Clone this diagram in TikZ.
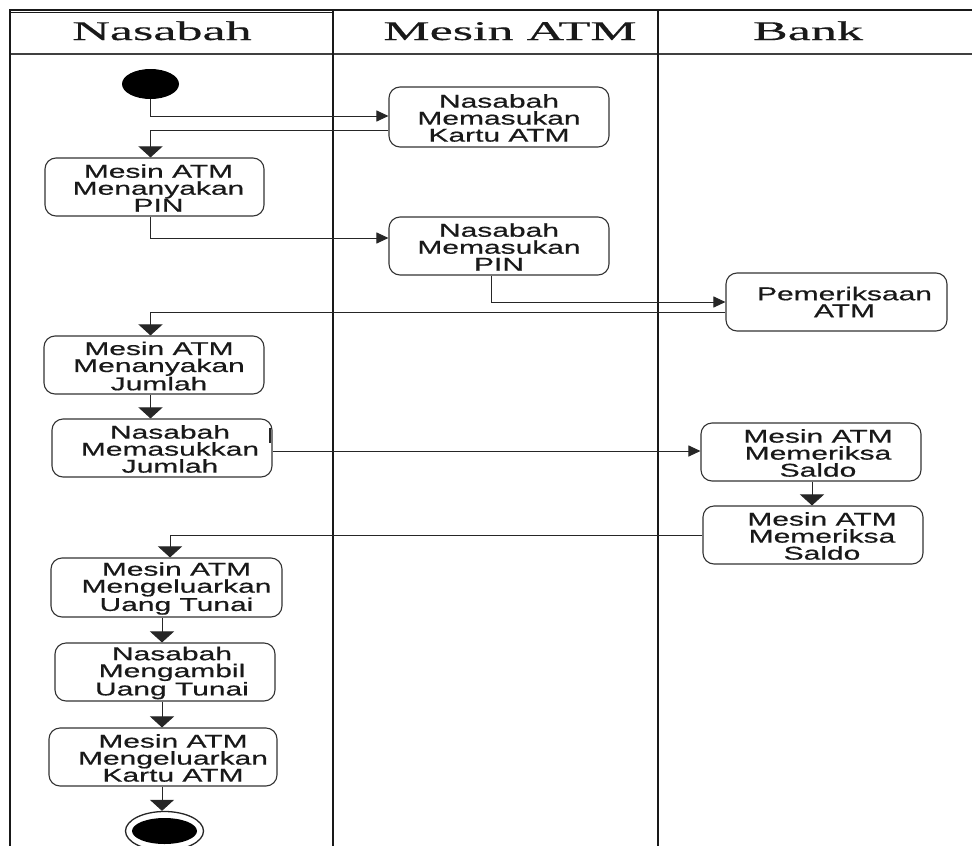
\documentclass[tikz,border=0pt]{standalone}
\usepackage{fontspec}
\usetikzlibrary{shapes.geometric,arrows.meta,calc}
\newfontfamily\boxfont[FakeStretch=1.62,FakeBold=0.6]{Liberation Sans}
\newfontfamily\headfont[FakeStretch=1.93,FakeBold=0.4]{Liberation Serif}

\tikzset{
  box/.style={draw=black!80, line width=1.1pt, rounded corners=11pt,
    minimum width=220pt, minimum height=58pt, inner sep=0pt},
  txt/.style={font=\boxfont\fontsize{18.5}{17}\selectfont, align=center,
    inner sep=0pt, text=black!90},
  head/.style={font=\headfont\fontsize{27}{30}\selectfont, inner sep=0pt,
    text=black!90, anchor=base},
  flow/.style={draw=black!85, line width=1pt},
  varr/.style={flow, -{Triangle[width=24pt,length=11pt]}},
  harr/.style={flow, -{Triangle[width=11pt,length=12pt]}},
  lane/.style={line width=#1, draw=black!90},
}

\begin{document}
\begin{tikzpicture}[x=1pt,y=-1pt]
\useasboundingbox (0,0) rectangle (972,846);

% swimlane frame
\draw[lane=1.4pt] (10,10) -- (972,10);
\draw[lane=1pt] (10,12.5) -- (333,12.5);
\draw[lane=1.4pt, draw=black!75] (10,54) -- (972,54);
\draw[lane=2pt] (10,9.3) -- (10,846);
\draw[lane=2.2pt] (333,9.3) -- (333,846);
\draw[lane=2.8pt] (658,9.3) -- (658,846);

% lane titles
\node[head] (hA) at (162,40) {Nasabah};
\node[head] (hB) at (510,40) {Mesin ATM};
\node[head] (hC) at (808,40) {Bank};

% vertical tracks of the connectors
\coordinate (l1) at (150.5,0);
\coordinate (l2) at (170,0);
\coordinate (l3) at (162,0);
\coordinate (l4) at (491,0);
\coordinate (l5) at (812,0);

% start and end
\node[ellipse, fill=black, minimum width=57pt, minimum height=30pt, inner sep=0pt] (start) at (150.5,84) {};
\node[ellipse, draw=black!85, line width=1.3pt, minimum width=78pt, minimum height=39pt, inner sep=0pt] (end) at (164.5,831) {};
\node[ellipse, fill=black, minimum width=65pt, minimum height=26pt, inner sep=0pt] (endin) at (164.5,831) {};

% activities
\node[box, minimum height=60pt] (b1) at (499,117) {};
\node[txt] (t1) at ([yshift=-1pt]b1.center) {Nasabah\\Memasukan\\Kartu ATM};

\node[box, minimum width=219pt] (b2) at (154.5,187) {};
\node[txt] (t2) at ([xshift=4pt,yshift=-1pt]b2.center) {Mesin ATM\\Menanyakan\\PIN};

\node[box] (b3) at (499,246) {};
\node[txt] (t3) at ([yshift=-1pt]b3.center) {Nasabah\\Memasukan\\PIN};

\node[box, minimum width=221pt] (b4) at (836.5,302) {};
\node[txt] (t4) at ([xshift=8pt]b4.center) {Pemeriksaan\\ATM};

\node[box] (b5) at (154,365) {};
\node[txt] (t5) at ([xshift=5pt,yshift=-1pt]b5.center) {Mesin ATM\\Menanyakan\\Jumlah};

\node[box] (b6) at (162,448) {};
\node[txt] (t6) at ([xshift=8pt,yshift=-1pt]b6.center) {Nasabah\\Memasukkan\\Jumlah};
\draw[line width=1.8pt, black!85] (270,428) -- (270,443);

\node[box] (b7) at (811,452) {};
\node[txt] (t7) at ([xshift=7pt,yshift=-1pt]b7.center) {Mesin ATM\\Memeriksa\\Saldo};

\node[box] (b8) at (813,535) {};
\node[txt] (t8) at ([xshift=9pt,yshift=-1pt]b8.center) {Mesin ATM\\Memeriksa\\Saldo};

\node[box, minimum width=231pt, minimum height=59pt] (b9) at (166.5,587.5) {};
\node[txt] (t9) at ([xshift=10pt,yshift=-1pt]b9.center) {Mesin ATM\\Mengeluarkan\\Uang Tunai};

\node[box] (b10) at (165,672) {};
\node[txt] (t10) at ([xshift=7pt,yshift=-1pt]b10.center) {Nasabah\\Mengambil\\Uang Tunai};

\node[box, minimum width=228pt] (b11) at (163,757) {};
\node[txt] (t11) at ([xshift=10pt,yshift=-1pt]b11.center) {Mesin ATM\\Mengeluarkan\\Kartu ATM};

% control flow
\draw[harr] (start.south) |- ([yshift=1pt]b1.west);
\draw[varr] ([yshift=-13pt]b1.west) -| (b2.north -| l1);
\draw[harr] (b2.south -| l1) |- ([yshift=8pt]b3.west);
\draw[harr] (b3.south -| l4) |- (b4.west);
\draw[varr] ([yshift=-10pt]b4.west) -| (b5.north -| l1);
\draw[varr] (b5.south -| l1) -- (b6.north -| l1);
\draw[harr] ([yshift=1pt]b6.east |- b7.west) -- ([yshift=1pt]b7.west);
\draw[varr] (b7.south -| l5) -- (b8.north -| l5);
\draw[varr] (b8.west) -| (b9.north -| l2);
\draw[varr] (b9.south -| l3) -- (b10.north -| l3);
\draw[varr] (b10.south -| l3) -- (b11.north -| l3);
\draw[varr] (b11.south -| l3) -- (end.north -| l3);
\end{tikzpicture}
\end{document}
